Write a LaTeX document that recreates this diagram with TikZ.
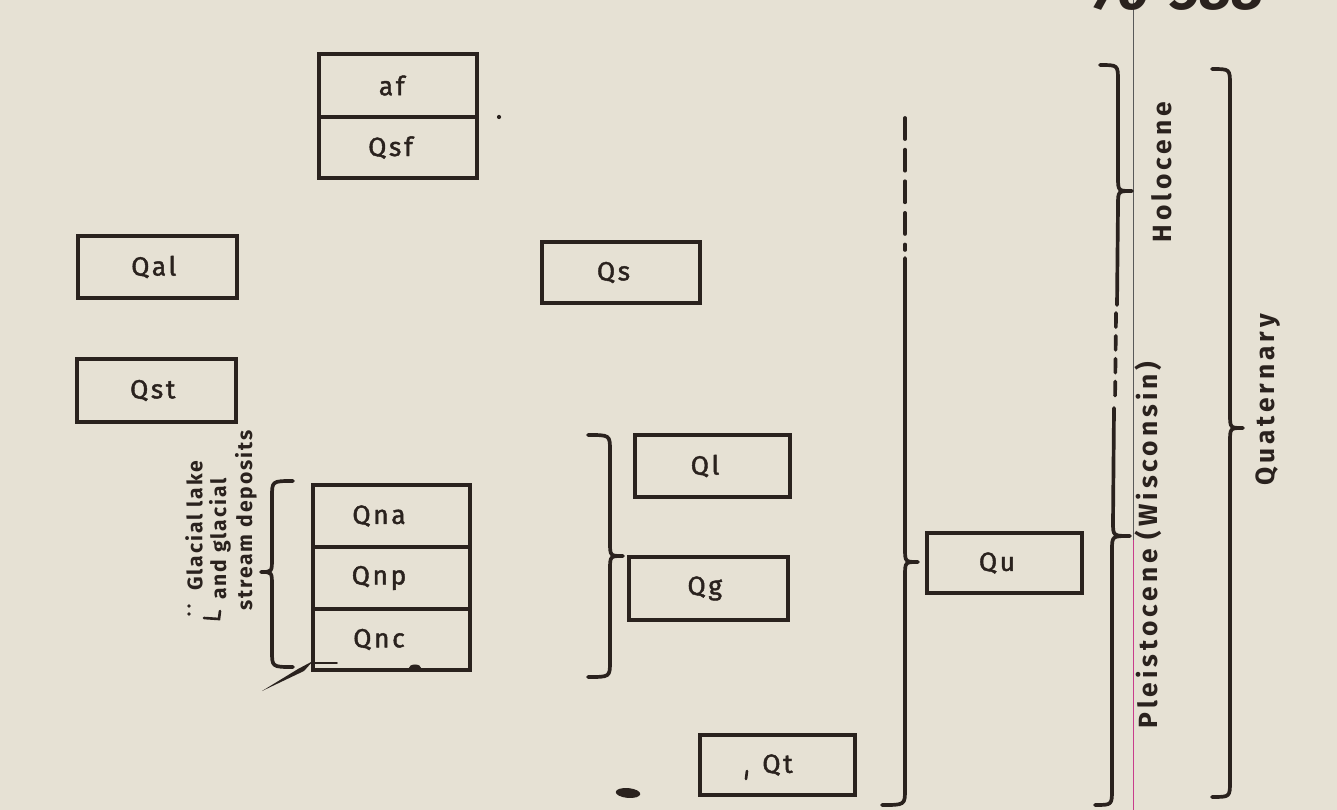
\documentclass[tikz,border=0pt]{standalone}
\usepackage{fontspec}
\setmainfont{Fira Sans}
\newfontfamily\lab[LetterSpace=10,FakeBold=1.6]{Fira Sans}
\newfontfamily\per[LetterSpace=15]{Fira Sans}
\newfontfamily\gla[LetterSpace=9]{Fira Sans}
\definecolor{paper}{RGB}{230,225,212}
\definecolor{ink}{RGB}{42,34,30}
\definecolor{redline}{RGB}{200,60,140}
\newcommand{\BrR}[5]{% closing brace: spine x, top y, tip y, bottom y, hook
\draw[brace] ({#1-#5},#2) .. controls (#1,#2) and (#1,#2) .. (#1,{#2+16}) -- (#1,{#3-14}) .. controls (#1,#3) and (#1,#3) .. ({#1+13},#3) .. controls (#1,#3) and (#1,#3) .. (#1,{#3+14}) -- (#1,{#4-16}) .. controls (#1,#4) and (#1,#4) .. ({#1-#5},#4);}
\newcommand{\BrL}[5]{% opening brace
\draw[brace] ({#1+#5},#2) .. controls (#1,#2) and (#1,#2) .. (#1,{#2+16}) -- (#1,{#3-14}) .. controls (#1,#3) and (#1,#3) .. ({#1-11},#3) .. controls (#1,#3) and (#1,#3) .. (#1,{#3+14}) -- (#1,{#4-16}) .. controls (#1,#4) and (#1,#4) .. ({#1+#5},#4);}
\begin{document}
\begin{tikzpicture}[x=0.02cm,y=-0.02cm,
  box/.style={draw=ink, line width=1.8pt, inner sep=0pt, minimum width=3.16cm, minimum height=1.24cm, text=ink, font=\lab\fontsize{15}{17}\selectfont},
  brace/.style={draw=ink, line width=2.1pt, line cap=round, line join=round},
  period/.style={text=ink, rotate=90, inner sep=0pt, font=\per\bfseries\fontsize{15}{17}\selectfont},
  glac/.style={text=ink, rotate=90, anchor=west, inner sep=0pt, font=\gla\bfseries\fontsize{12}{14}\selectfont},
  pen/.style={draw=ink, line width=1pt, line cap=round}]
\fill[paper] (0,0) rectangle (1337,810);
\useasboundingbox (0,0) rectangle (1337,810);
\begin{scope}
\clip (0,0) rectangle (1337,810);
% thin scan line
\draw[gray!70!black, line width=0.5pt] (1133,0) -- (1133,540);
\draw[redline, line width=0.5pt] (1133,540) -- (1133,810);
% handwritten number (cut at top)
\node[anchor=base west, inner sep=0pt, text=ink, font=\bfseries\itshape\fontsize{32}{32}\selectfont] (num) at (1092,10) {76-588};

% boxes
\node[box, minimum height=1.26cm] (af) at (398,85.5) {af\kern0.25cm};
\node[box, minimum height=1.22cm] (qsf) at (398,147.5) {Qsf\kern0.3cm};
\node[box, minimum width=3.18cm] (qal) at (157.5,267) {Qal\kern0.15cm};
\node[box, minimum width=3.18cm, minimum height=1.26cm] (qst) at (156.5,390.5) {Qst\kern0.15cm};
\node[box, minimum height=1.22cm] (qs) at (621,272.5) {Qs\kern0.3cm};
\node[box, minimum width=3.10cm] (ql) at (712.5,466) {Ql\kern0.3cm};
\node[box, minimum width=3.18cm, minimum height=1.26cm] (qg) at (708.5,588.5) {Qg\kern0.15cm};
\node[box, minimum width=3.14cm] (qna) at (391.5,516) {Qna\kern0.5cm};
\node[box, minimum width=3.14cm] (qnp) at (391.5,578) {Qnp\kern0.5cm};
\node[box, minimum width=3.14cm, minimum height=1.22cm] (qnc) at (391.5,639.5) {Qnc\kern0.5cm};
\node[box, minimum width=3.10cm, minimum height=1.20cm] (qt) at (777.5,765) {\raisebox{-0.2cm}{Qt}};
\node[box, minimum width=3.10cm, minimum height=1.20cm] (qu) at (1004.5,563) {Qu\kern0.3cm};

% braces
\BrL{272}{481}{572}{667}{21}
\BrR{610}{435}{556}{677}{22}
\draw[brace, dash pattern=on 12pt off 6pt] (905,118) -- (905,250);
\draw[brace] (905,258) -- (905,548) .. controls (905,562) and (905,562) .. (918,562) .. controls (905,562) and (905,562) .. (905,576) -- (905,789) .. controls (905,805) and (905,805) .. (882,805);
% Holocene / Pleistocene brace
\draw[brace] (1100,65) .. controls (1118,65) and (1118,65) .. (1118,81) -- (1118,177) .. controls (1118,191) and (1118,191) .. (1132,191) .. controls (1118,191) and (1118,191) .. (1118,205) -- (1117,305);
\draw[brace, dash pattern=on 8pt off 5pt] (1116,313) -- (1115,402);
\draw[brace] (1114,408) -- (1113,522) .. controls (1113,536) and (1113,536) .. (1130,536) .. controls (1112,536) and (1112,536) .. (1112,550) -- (1112,789) .. controls (1112,805) and (1112,805) .. (1095,805);
\BrR{1230}{69}{428}{797}{18}

% labels
\node[period] (holo) at (1162,172) {Holocene};
\node[period] (pleis) at (1148,545) {Pleistocene (Wisconsin)};
\node[period] (quat) at (1268,400) {Quaternary};
\node[glac] (g1) at (194,591) {Glacial lake};
\node[glac] (g2) at (220,600) {and glacial};
\node[glac] (g3) at (246,611) {stream deposits};

% stray pen marks
\fill[ink] (262,691) -- (298,669) -- (313,661) -- (304,671) -- cycle;
\draw[pen] (313,663) -- (337,663);
\fill[ink] (415,668) ellipse [x radius=3.5pt, y radius=2pt];
\fill[ink] (499,117) circle [radius=1.2pt];
\fill[ink, rotate around={-5:(628,793)}] (628,793) ellipse [x radius=7pt, y radius=2.8pt];
\draw[pen, line width=1.5pt] (747,771) -- (746,779);
\fill[ink] (189,606) circle [radius=1.1pt];
\fill[ink] (189,614) circle [radius=1.1pt];
\draw[pen, line width=1.5pt] (204,618) -- (219,619) -- (220,611);
\end{scope}
\end{tikzpicture}
\end{document}
